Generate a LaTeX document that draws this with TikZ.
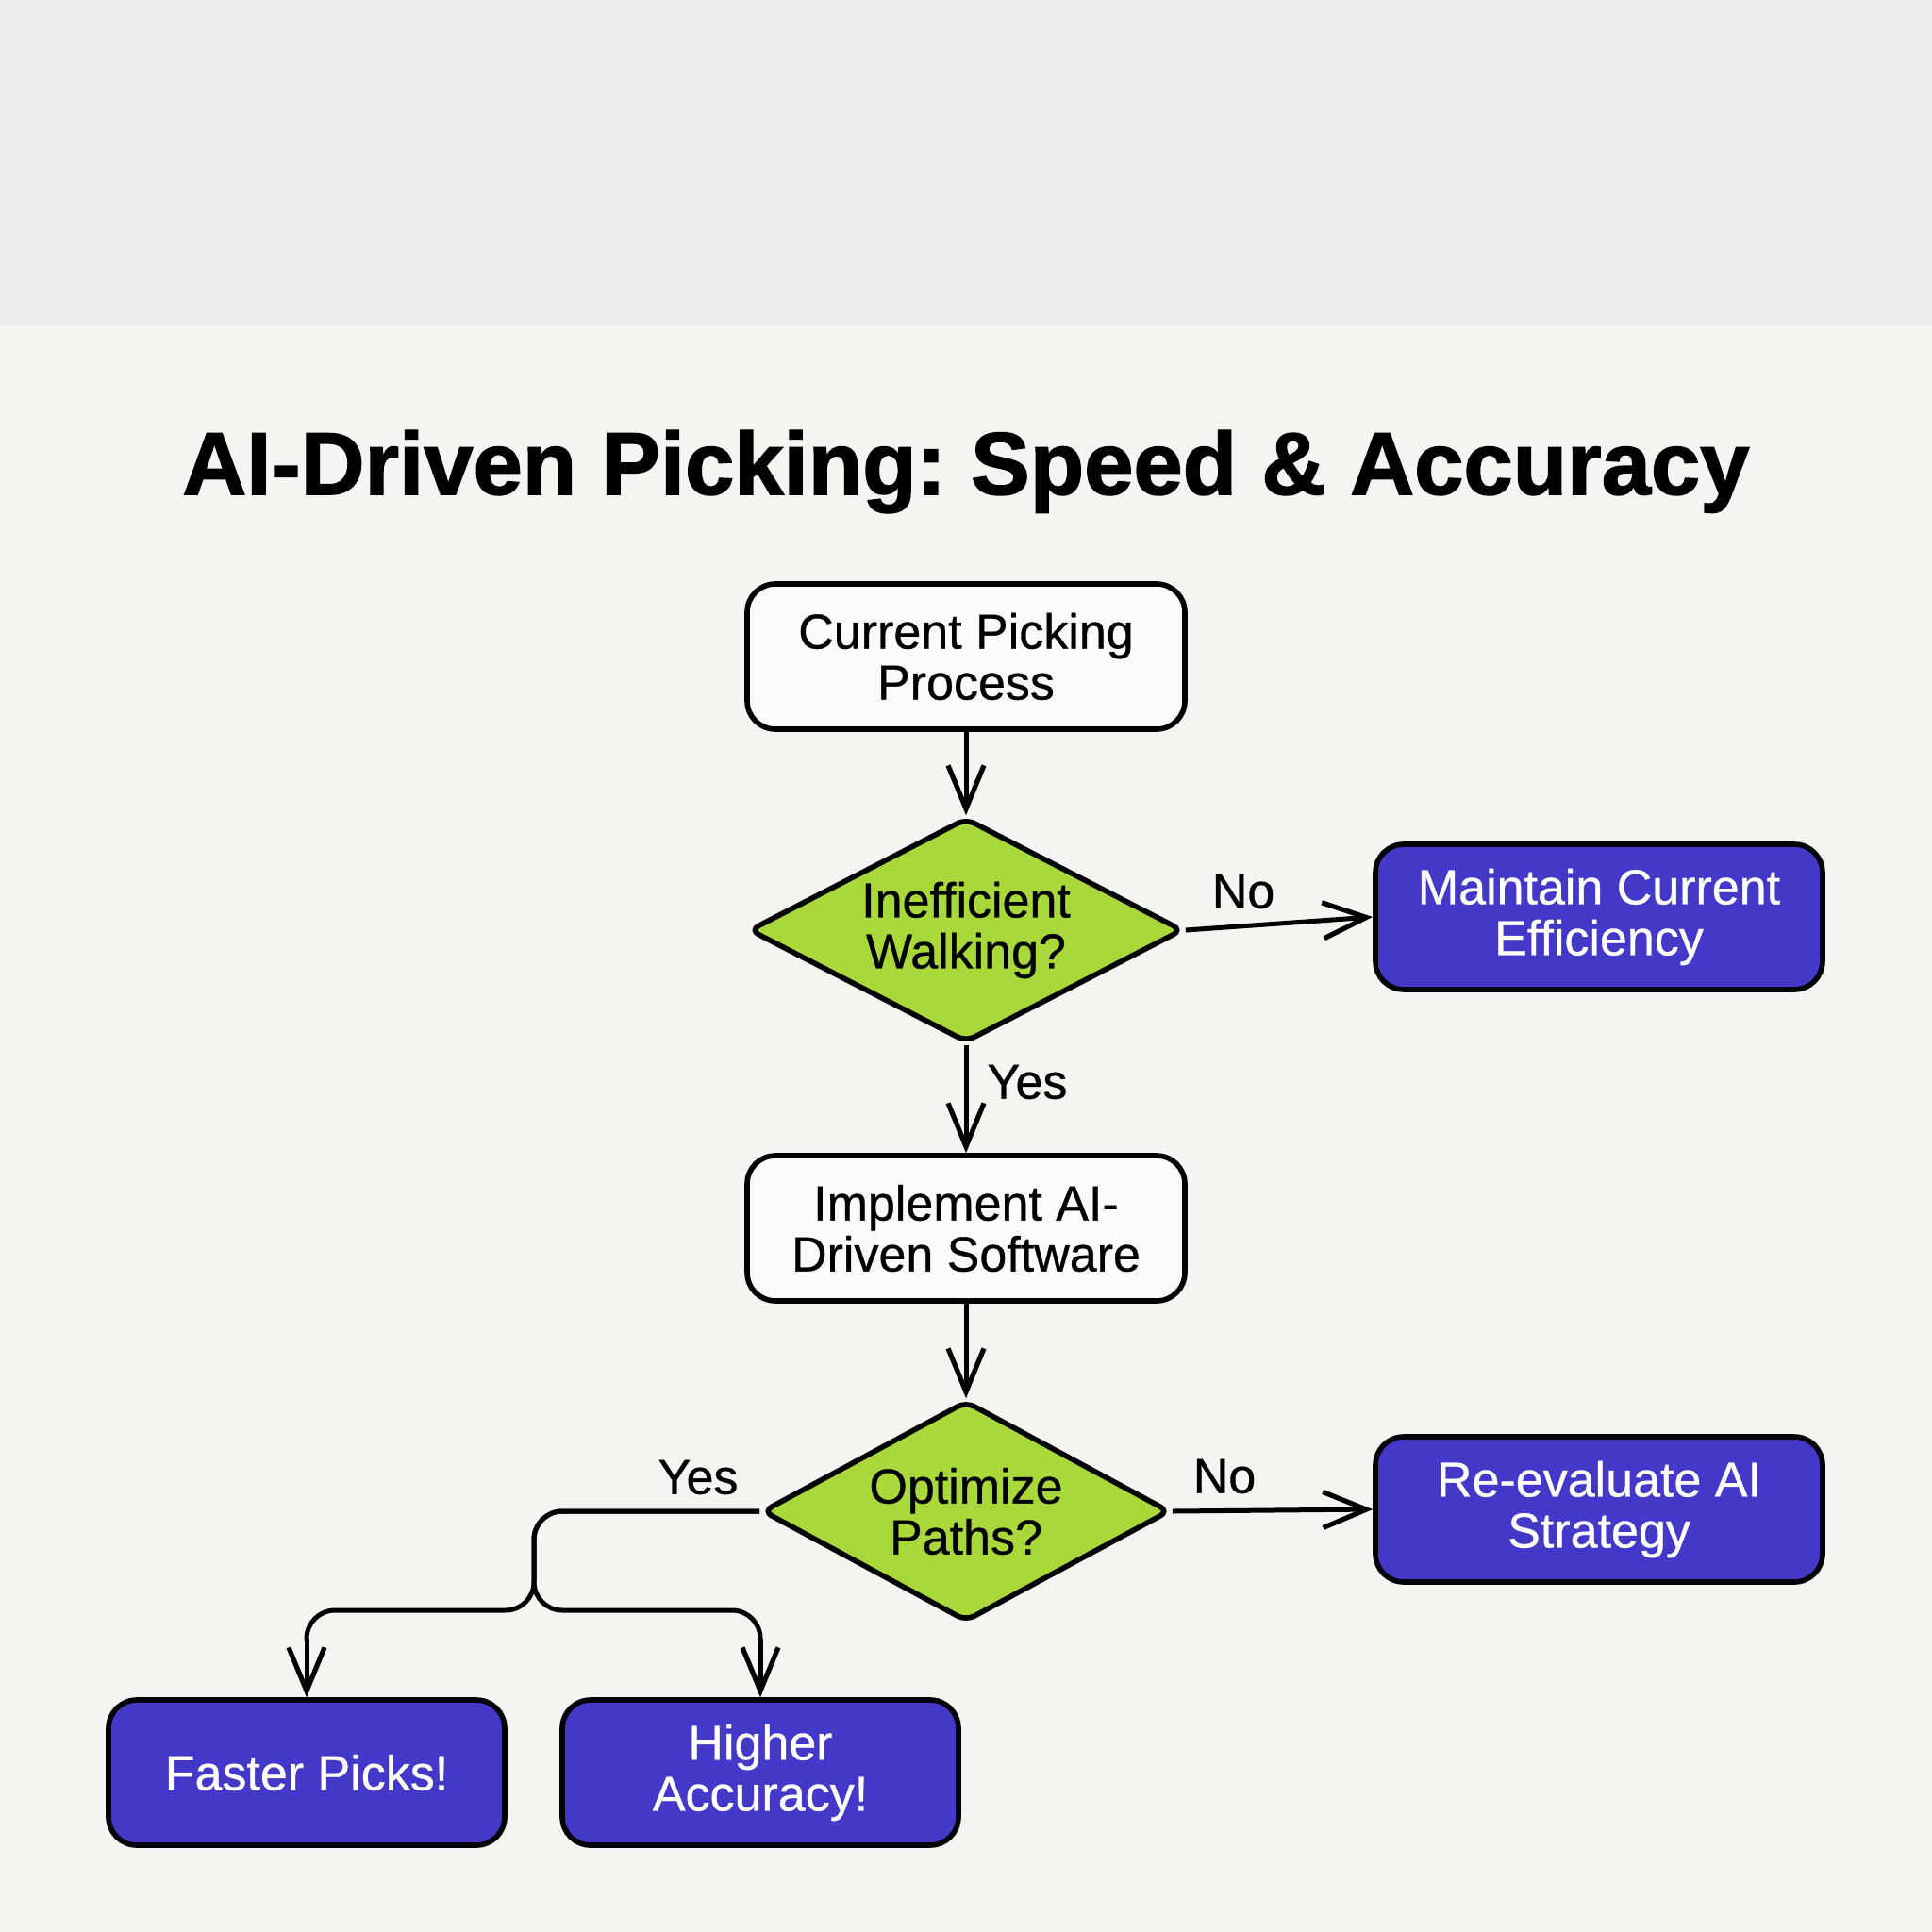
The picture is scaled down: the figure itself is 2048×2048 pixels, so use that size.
\documentclass[tikz,border=0pt]{standalone}
\usepackage{fontspec}
\setmainfont{Liberation Sans}[BoldFeatures={FakeBold=1.5}]
\newfontfamily\boxfont{Liberation Sans}[FakeBold=0.6]
\usetikzlibrary{shapes.geometric,arrows.meta}

\definecolor{bandgray}{HTML}{ECECEC}
\definecolor{papergray}{HTML}{F4F4F3}
\definecolor{boxwhite}{HTML}{FAFAFA}
\definecolor{limefill}{HTML}{A8D83A}
\definecolor{indigofill}{HTML}{4338C8}

\tikzset{
  box/.style={draw=black, line width=2.8pt, rounded corners=15pt,
    minimum width=232pt, minimum height=77pt, inner sep=0pt,
    align=center, font=\boxfont\fontsize{26}{27}\selectfont},
  plainbox/.style={box, fill=boxwhite},
  bluebox/.style={box, fill=indigofill, text=white, minimum width=237pt},
  smallblue/.style={bluebox, minimum width=210pt},
  question/.style={diamond, aspect=2, draw=black, line width=2.8pt,
    fill=limefill, rounded corners=5pt, inner sep=0pt, align=center,
    font=\boxfont\fontsize{26}{27}\selectfont},
  conn/.style={line width=2.5pt,
    -{Straight Barb[length=23pt,width=19pt,line width=2.6pt]}},
  branch/.style={line width=2.5pt, rounded corners=15pt},
  lbl/.style={font=\boxfont\fontsize{26}{27}\selectfont, inner sep=0pt}
}

\begin{document}
\frenchspacing
\begin{tikzpicture}[x=0.5pt,y=-0.5pt]

\newcommand\midX{1024}
\newcommand\forkX{566}
\newcommand\forkY{1707}

  %% paper
  \useasboundingbox (0,0) rectangle (2048,2048);
  \fill[papergray] (0,0) rectangle (2048,2048);
  \fill[bandgray] (0,0) rectangle (2048,345);

  %% title
  \node[font=\bfseries\fontsize{47}{52}\selectfont] (title) at (\midX,500)
    {AI-Driven Picking: Speed \& Accuracy};

  %% nodes
  \node[plainbox] (current) at (\midX,696) {Current Picking\\Process};
  \node[question, minimum width=230pt, minimum height=119pt] (walking)
    at (\midX,986) {Inefficient\\Walking?};
  \node[bluebox] (maintain) at (1695,972) {Maintain Current\\Efficiency};
  \node[plainbox] (implement) at (\midX,1302) {Implement AI-\\Driven Software};
  \node[question, minimum width=216pt, minimum height=117pt] (optimize)
    at (\midX,1602) {Optimize\\Paths?};
  \node[bluebox] (reeval) at (1695,1600) {Re-evaluate AI\\Strategy};
  \node[smallblue] (faster) at (325,1879) {Faster Picks!};
  \node[smallblue] (higher) at (806,1879) {Higher\\Accuracy!};

  %% node to node
  \draw[conn] (current) -- (walking);
  \draw[conn] (walking.east) -- (maintain.west);
  \draw[conn] (walking) -- (implement);
  \draw[conn] (implement) -- (optimize);
  \draw[conn] (optimize.east) -- (reeval.west);

  %% yes branch, split in two
  \coordinate (turn) at (\forkX,1602);
  \coordinate (fork) at (\forkX,\forkY);
  \draw[branch] (optimize.west) -- (turn) -- (fork) -| ([yshift=30pt]faster.north);
  \draw[branch] (optimize.west) -- (turn) -- (fork) -| ([yshift=30pt]higher.north);
  \draw[conn] ([yshift=31pt]faster.north) -- (faster.north);
  \draw[conn] ([yshift=31pt]higher.north) -- (higher.north);

  %% labels
  \node[lbl] (no1) at (1318,945) {No};
  \node[lbl] (yes1) at (1089,1147) {Yes};
  \node[lbl] (no2) at (1298,1565) {No};
  \node[lbl] (yes2) at (740,1566) {Yes};

\end{tikzpicture}
\end{document}
